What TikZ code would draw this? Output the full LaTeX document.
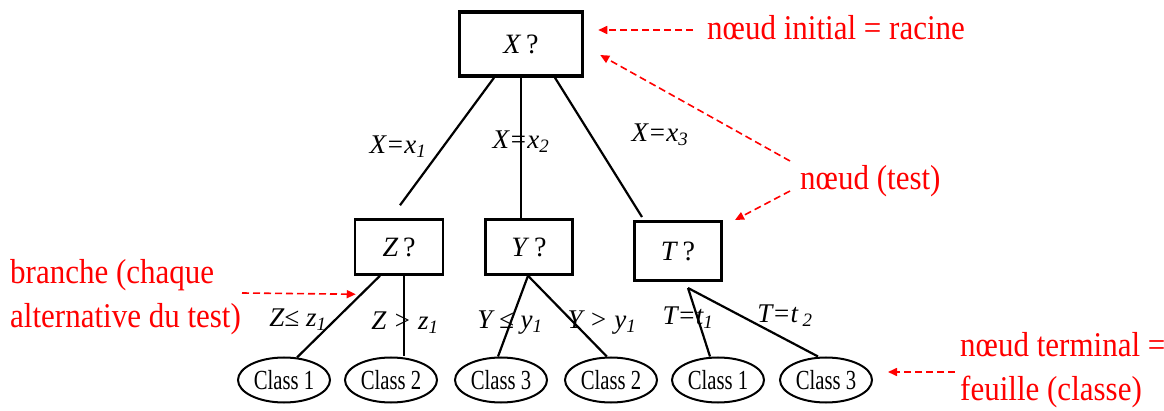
\documentclass[tikz,border=0pt]{standalone}
\usepackage{fontspec}
\setmainfont{Liberation Serif}
\usetikzlibrary{shapes.geometric,arrows.meta,calc}
\newcommand{\leafname}[1]{\scalebox{0.9}[1.2]{#1}}
\newcommand{\tallnote}[1]{\scalebox{1}[1.12]{#1}}
\begin{document}
\begin{tikzpicture}[x=1pt,y=-1pt,
 testbox/.style={draw,line width=2.5pt,rectangle,inner sep=0pt,font=\fontsize{28}{28}\selectfont},
 leaf/.style={draw,ellipse,line width=2pt,minimum width=92pt,minimum height=45pt,inner sep=0pt,font=\fontsize{23}{23}\selectfont},
 edge/.style={line width=2.2pt},
 lbl/.style={font=\fontsize{27}{27}\selectfont\itshape,inner sep=0pt},
 note/.style={text=red,font=\fontsize{31}{44}\selectfont,inner sep=0pt,align=left},
 pointer/.style={red,dash pattern=on 7pt off 4pt,line width=1.6pt,-{Triangle[length=9pt,width=8pt]}}
]
\useasboundingbox (0,0) rectangle (1164,411);
\fill[white] (0,0) rectangle (1164,411);

% test nodes
\node[testbox,minimum width=123pt,minimum height=64pt,line width=3.5pt] (X) at (521,44) {\textit{X}\,?};
\node[testbox,minimum width=88pt,minimum height=55pt] (Z) at (399,247) {\textit{Z}\,?};
\node[testbox,minimum width=87pt,minimum height=55pt] (Y) at (529,247) {\textit{Y}\,?};
\node[testbox,minimum width=87pt,minimum height=59pt,line width=3pt] (T) at (678,251) {\textit{T}\,?};

% leaves
\node[leaf] (C1) at (284,380) {\leafname{Class 1}};
\node[leaf] (C2) at (391,380) {\leafname{Class 2}};
\node[leaf] (C3) at (501,380) {\leafname{Class 3}};
\node[leaf] (C4) at (611,380) {\leafname{Class 2}};
\node[leaf] (C5) at (718,380) {\leafname{Class 1}};
\node[leaf] (C6) at (826,380) {\leafname{Class 3}};

% branches
\draw[edge] ($(X.south)+(-27,0)$) -- ($(Z.north)+(1,-13)$);
\draw[edge] (X.south) -- (X.south |- Y.north);
\draw[edge] ($(X.south)+(34,0)$) -- ($(T.north west)+(9,-3)$);
\draw[edge] ($(Z.south)+(-19,0)$) -- (C1.60);
\draw[edge] ($(Z.south)+(5,0)$) -- ($(C2.north)+(13,0)$);
\draw[edge] ($(Y.south)+(-1,0)$) -- ($(C3.north)+(-3,0)$);
\draw[edge] ($(Y.south)+(-1,0)$) -- (C4.100);
\draw[edge] ($(T.south)+(10,6)$) -- ($(C5.north)+(-8,0)$);
\draw[edge] ($(T.south)+(10,6)$) -- ($(C6.north)+(-8,0)$);

% branch labels
\node[lbl] (lx1) at (398,147) {X=x\textsubscript{1}};
\node[lbl] (lx2) at (521,142) {X=x\textsubscript{2}};
\node[lbl] (lx3) at (660,135) {X=x\textsubscript{3}};
\node[lbl] (lz1) at (298,320) {Z≤ z\textsubscript{1}};
\node[lbl] (lz2) at (405,323) {Z > z\textsubscript{1}};
\node[lbl] (ly1) at (510,323) {Y ≤ y\textsubscript{1}};
\node[lbl] (ly2) at (602,323) {Y > y\textsubscript{1}};
\node[lbl] (lt1) at (688,318) {T=t\textsubscript{1}};
\node[lbl] (lt2) at (785,316) {T=t\,\textsubscript{2}};

% annotations
\node[note,anchor=west] (racine) at (707,28) {\tallnote{nœud initial = racine}};
\node[note,anchor=west] (test) at (800,181) {\tallnote{nœud (test)}};
\node[note,anchor=west] (branche) at (10,297) {\tallnote{branche (chaque}\\\tallnote{alternative du test)}};
\node[note,anchor=west] (feuille) at (960,370) {\tallnote{nœud terminal =}\\\tallnote{feuille (classe)}};

\draw[pointer] ($(racine.west)+(-14,2)$) -- ($(X.east)+(14,-14)$);
\draw[pointer] ($(test.west)+(-10,-20)$) -- ($(X.east)+(16,11)$);
\draw[pointer] ($(test.west)+(-10,10)$) -- ($(T.north east)+(12,0)$);
\draw[pointer] ($(branche.west)+(232,-4)$) -- ($(Z.south west)+(2,18.5)$);
\draw[pointer] ($(feuille.west)+(-5,2)$) -- ($(C6.east)+(15,-8)$);
\end{tikzpicture}
\end{document}
